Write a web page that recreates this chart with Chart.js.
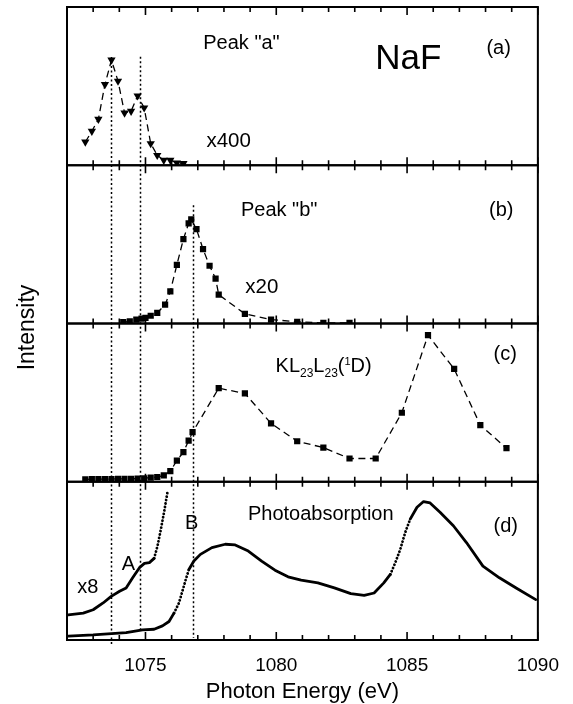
<!DOCTYPE html>
<html><head><meta charset="utf-8">
<script src="https://cdn.jsdelivr.net/npm/chart.js@4"></script>
<style>html,body{margin:0;padding:0;background:#fff}#wrap{width:573px;height:704px;position:relative}</style>
</head><body><div id="wrap"><canvas id="c" width="573" height="704"></canvas></div>
<script>
const FONT = '"Liberation Sans", Arial, Helvetica, sans-serif';

// x-axis tick labels
const xTickValues = [1075, 1080, 1085, 1090];

// Panel (a): Peak "a" (x400)
const energyA = [1072.7, 1072.95, 1073.2, 1073.45, 1073.7, 1073.95, 1074.2, 1074.45, 1074.7, 1074.95, 1075.2, 1075.45, 1075.7, 1075.95, 1076.2, 1076.45];
const intensityA = [14.7, 21.5, 29.1, 51.1, 66.5, 53.2, 33.1, 34.2, 43.9, 36.3, 13.7, 6.3, 3.2, 3.2, 1.5, 1.1];

// Panel (b): Peak "b" (x20)
const energyB = [1074.15, 1074.4, 1074.65, 1074.85, 1075.0, 1075.2, 1075.45, 1075.75, 1075.95, 1076.2, 1076.45, 1076.65, 1076.75, 1076.95, 1077.2, 1077.45, 1077.68, 1077.8, 1078.8, 1079.8, 1080.8, 1081.8, 1082.8];
const intensityB = [0.8, 1.4, 2.5, 3.1, 3.6, 4.9, 6.7, 11.9, 20.3, 37.1, 53.3, 63.3, 65.8, 59.6, 47.0, 36.5, 28.3, 18.2, 6.1, 2.5, 1.1, 0.4, 0.4];

// Panel (c): KL23L23(1D)
const energyC = [1072.7, 1072.95, 1073.2, 1073.45, 1073.7, 1073.95, 1074.2, 1074.45, 1074.7, 1074.95, 1075.2, 1075.45, 1075.7, 1075.95, 1076.2, 1076.45, 1076.65, 1076.8, 1077.8, 1078.8, 1079.8, 1080.8, 1081.8, 1082.8, 1083.8, 1084.8, 1085.8, 1086.8, 1087.8, 1088.8];
const intensityC = [1.5, 1.6, 1.6, 1.7, 1.7, 1.8, 1.8, 1.9, 2.0, 2.2, 2.6, 3.0, 4.0, 6.7, 13.4, 18.7, 26.0, 31.3, 59.1, 55.8, 36.9, 25.6, 21.6, 14.7, 14.7, 43.6, 92.6, 71.3, 35.8, 21.2];

// Panel (d): Photoabsorption
const energyD = [1072.05, 1073.0, 1074.26, 1074.89, 1075.33, 1075.65, 1075.9, 1076.09, 1076.28, 1076.41, 1076.54, 1076.66, 1076.85, 1077.1, 1077.54, 1078.05, 1078.43, 1078.93, 1079.44, 1079.95, 1080.45, 1080.95, 1081.59, 1082.22, 1082.85, 1083.36, 1083.74, 1084.11, 1084.36, 1084.55, 1084.74, 1084.93, 1085.12, 1085.38, 1085.63, 1085.88, 1086.26, 1086.77, 1087.27, 1087.9, 1088.53, 1089.17, 1089.92];
const absorptionD = [2.5, 3.2, 4.6, 6.4, 6.8, 8.9, 11.7, 17.0, 23.4, 30.8, 38.2, 44.6, 49.9, 54.1, 58.4, 60.5, 60.1, 56.2, 49.9, 44.1, 39.9, 37.8, 36.1, 32.9, 29.3, 28.2, 29.7, 36.1, 41.4, 48.9, 57.3, 68.0, 76.4, 83.9, 87.5, 86.6, 80.7, 72.2, 61.6, 46.7, 39.3, 32.9, 25.5];
// Panel (d): Photoabsorption x8
const energyD8 = [1072.05, 1072.62, 1073.0, 1073.38, 1073.69, 1074.01, 1074.26, 1074.51, 1074.77, 1074.96, 1075.15, 1075.33, 1075.46, 1075.59, 1075.71, 1075.84];
const absorptionD8 = [15.9, 17.0, 19.1, 23.4, 27.6, 30.8, 32.9, 39.3, 45.7, 48.4, 48.9, 51.6, 59.4, 70.1, 80.7, 93.4];

// Vertical dotted reference lines (energies) and their extents [panel axis, value]
const refLineEnergy = [1073.67, 1074.78, 1076.81];
const refLineTop = [['ya', 68.4], ['ya', 68.6], ['yb', 74.8]];
const refLineBottom = [['yd', -3.2], ['yd', 6.4], ['yd', 1.3]];

const toXY = (xs, ys) => xs.map((x, i) => ({ x: x, y: ys[i] }));

// Text annotations (placed through the scales)
const notes = [
  { text: 'Peak "a"', x: 1078.67, axis: 'ya', y: 77.2, size: 20 },
  { text: 'x400', x: 1078.18, axis: 'ya', y: 15.2, size: 20.5 },
  { text: 'NaF', x: 1085.05, axis: 'ya', y: 66.8, size: 35 },
  { text: '(a)', x: 1088.5, axis: 'ya', y: 74.1, size: 20 },
  { text: 'Peak "b"', x: 1080.11, axis: 'yb', y: 71.7, size: 20 },
  { text: '(b)', x: 1088.6, axis: 'yb', y: 71.1, size: 20 },
  { text: 'x20', x: 1079.45, axis: 'yb', y: 22.6, size: 20.5 },
  { text: '(c)', x: 1088.75, axis: 'yc', y: 80.5, size: 20 },
  { text: 'Photoabsorption', x: 1081.7, axis: 'yd', y: 79.6, size: 20 },
  { text: '(d)', x: 1088.77, axis: 'yd', y: 72.0, size: 20 },
  { text: 'B', x: 1076.77, axis: 'yd', y: 73.9, size: 20 },
  { text: 'A', x: 1074.35, axis: 'yd', y: 47.8, size: 20 },
  { text: 'x8', x: 1072.8, axis: 'yd', y: 33.1, size: 20 }
];
const richNote = { x: 1081.81, axis: 'yc', y: 73.6,
  parts: [['KL', 20, 0], ['23', 12, 5], ['L', 20, 0], ['23', 12, 5], ['(', 20, 0], ['1', 11, -7], ['D)', 20, 0]] };

const panelAxes = ['ya', 'yb', 'yc', 'yd'];

const framePlugin = {
  id: 'frames',
  beforeDatasetsDraw(chart) {
    const ctx = chart.ctx, xs = chart.scales.x;
    ctx.save();
    ctx.strokeStyle = '#000';
    ctx.lineWidth = 1.5;
    ctx.setLineDash([2, 2.5]);
    refLineEnergy.forEach((e, i) => {
      const px = Math.round(xs.getPixelForValue(e)) + 0.5;
      const t = chart.scales[refLineTop[i][0]].getPixelForValue(refLineTop[i][1]);
      const b = chart.scales[refLineBottom[i][0]].getPixelForValue(refLineBottom[i][1]);
      ctx.beginPath(); ctx.moveTo(px, t); ctx.lineTo(px, b); ctx.stroke();
    });
    ctx.restore();
  },
  afterDatasetsDraw(chart) {
    const ctx = chart.ctx, xs = chart.scales.x;
    ctx.save();
    ctx.strokeStyle = '#000';
    panelAxes.forEach(id => {
      const s = chart.scales[id];
      ctx.lineWidth = 2;
      ctx.strokeRect(xs.left, s.top, xs.right - xs.left, s.bottom - s.top);
      ctx.lineWidth = 1.6;
      for (let v = Math.ceil(xs.min); v <= xs.max; v++) {
        const px = xs.getPixelForValue(v);
        const len = (v % 5 === 0) ? 8 : 5;
        ctx.beginPath();
        ctx.moveTo(px, s.top); ctx.lineTo(px, s.top + len);
        ctx.moveTo(px, s.bottom); ctx.lineTo(px, s.bottom - len);
        ctx.stroke();
      }
    });
    // annotations
    ctx.fillStyle = '#000';
    ctx.textAlign = 'center';
    ctx.textBaseline = 'middle';
    notes.forEach(n => {
      ctx.font = n.size + 'px ' + FONT;
      ctx.fillText(n.text, xs.getPixelForValue(n.x), chart.scales[n.axis].getPixelForValue(n.y));
    });
    // rich label KL23L23(1D)
    let total = 0;
    richNote.parts.forEach(p => { ctx.font = p[1] + 'px ' + FONT; total += ctx.measureText(p[0]).width; });
    let cx = xs.getPixelForValue(richNote.x) - total / 2;
    const cy = chart.scales[richNote.axis].getPixelForValue(richNote.y);
    ctx.textAlign = 'left';
    ctx.textBaseline = 'alphabetic';
    richNote.parts.forEach(p => {
      ctx.font = p[1] + 'px ' + FONT;
      ctx.fillText(p[0], cx, cy + 7 + p[2]);
      cx += ctx.measureText(p[0]).width;
    });
    // y title
    const ca = chart.chartArea;
    ctx.translate(28, (ca.top + ca.bottom) / 2 + 4);
    ctx.rotate(-Math.PI / 2);
    ctx.textAlign = 'center';
    ctx.textBaseline = 'middle';
    ctx.font = '23px ' + FONT;
    ctx.fillText('Intensity', 0, 0);
    ctx.restore();
  }
};

const steep = c => Math.abs(c.p1.y - c.p0.y) > 1.8 * Math.abs(c.p1.x - c.p0.x);

const yBase = {
  type: 'linear', min: 0, max: 100, position: 'left', stack: 'panels', stackWeight: 1,
  ticks: { display: false }, grid: { display: false }, border: { display: false },
  afterFit: s => { s.width = 0; }
};

new Chart(document.getElementById('c'), {
  type: 'line',
  data: {
    datasets: [
      { data: toXY(energyA, intensityA), yAxisID: 'ya', borderColor: '#000', borderWidth: 1.3, borderDash: [7, 4.5],
        pointStyle: 'triangle', pointRotation: 180, pointRadius: 4.8, pointBackgroundColor: '#000', pointBorderColor: '#000', pointBorderWidth: 0 },
      { data: toXY(energyB, intensityB), yAxisID: 'yb', borderColor: '#000', borderWidth: 1.3, borderDash: [7, 4.5],
        pointStyle: 'rect', pointRadius: 4.4, pointBackgroundColor: '#000', pointBorderColor: '#000', pointBorderWidth: 0 },
      { data: toXY(energyC, intensityC), yAxisID: 'yc', borderColor: '#000', borderWidth: 1.3, borderDash: [7, 4.5],
        pointStyle: 'rect', pointRadius: 4.4, pointBackgroundColor: '#000', pointBorderColor: '#000', pointBorderWidth: 0 },
      { data: toXY(energyD, absorptionD), yAxisID: 'yd', borderColor: '#000', borderWidth: 2.8, pointRadius: 0,
        borderCapStyle: 'round', borderJoinStyle: 'round',
        segment: { borderDash: c => steep(c) ? [0.1, 3.4] : undefined } },
      { data: toXY(energyD8, absorptionD8), yAxisID: 'yd', borderColor: '#000', borderWidth: 2.8, pointRadius: 0,
        borderCapStyle: 'round', borderJoinStyle: 'round',
        segment: { borderDash: c => steep(c) ? [0.1, 3.4] : undefined } }
    ]
  },
  options: {
    responsive: false, animation: false, devicePixelRatio: 1,
    layout: { padding: { left: 67, right: 31, top: 7, bottom: 0 } },
    plugins: { legend: { display: false }, tooltip: { enabled: false } },
    scales: {
      x: {
        type: 'linear', min: 1072, max: 1090, position: 'bottom',
        afterBuildTicks: s => { s.ticks = xTickValues.map(v => ({ value: v })); },
        ticks: { font: { family: FONT, size: 19 }, color: '#000', padding: 14, maxRotation: 0, autoSkip: false,
                 callback: v => String(v) },
        grid: { display: false, drawTicks: false }, border: { display: false },
        title: { display: true, text: 'Photon Energy (eV)', font: { family: FONT, size: 22 }, color: '#000', padding: { top: 0, bottom: -1 } },
        afterFit: s => { s.height = 64; }
      },
      yd: Object.assign({}, yBase),
      yc: Object.assign({}, yBase),
      yb: Object.assign({}, yBase),
      ya: Object.assign({}, yBase)
    }
  },
  plugins: [framePlugin]
});
</script>
</body></html>
